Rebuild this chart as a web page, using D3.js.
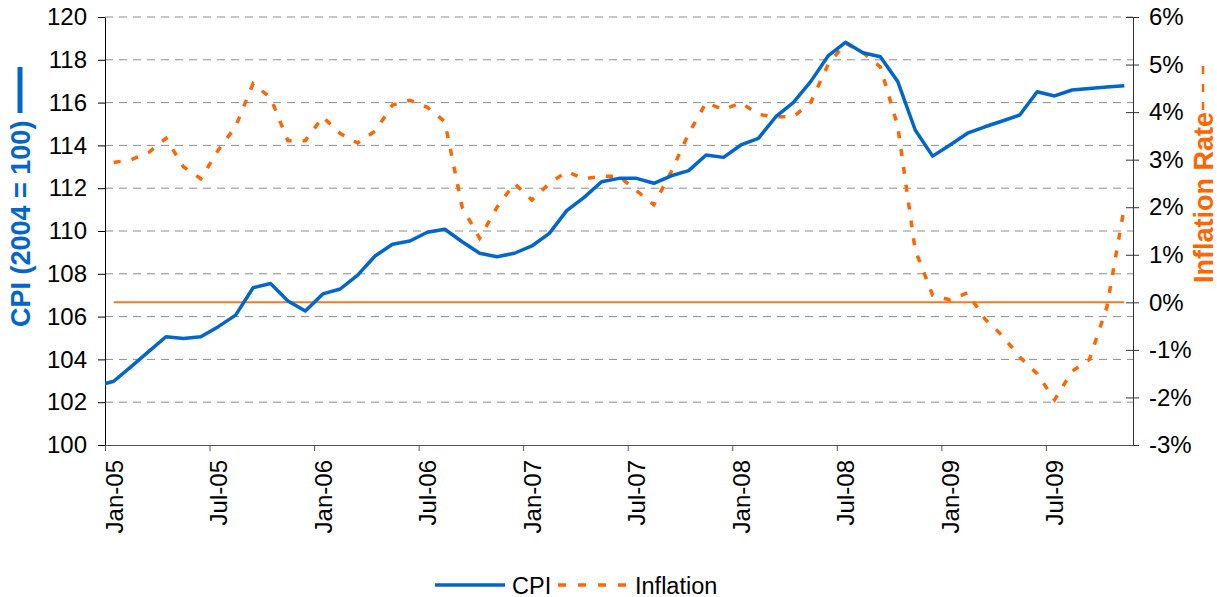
<!DOCTYPE html>
<html>
<head>
<meta charset="utf-8">
<script src="https://cdn.jsdelivr.net/npm/d3@7"></script>
<style>
  body { margin: 0; background: #fff; }
  svg { display: block; }
</style>
</head>
<body>
<script>
const width = 1217, height = 597;
const margin = { top: 17, right: 84, bottom: 152, left: 105 };
const innerWidth = width - margin.left - margin.right;
const innerHeight = height - margin.top - margin.bottom;
const fontFamily = '"Liberation Sans", Arial, sans-serif';

// months (CPI also has the Dec-04 point, drawn clipped at the axis)
const months = [
    'Dec-04',
    'Jan-05', 'Feb-05', 'Mar-05', 'Apr-05', 'May-05', 'Jun-05', 'Jul-05', 'Aug-05', 'Sep-05', 'Oct-05', 'Nov-05', 'Dec-05',
    'Jan-06', 'Feb-06', 'Mar-06', 'Apr-06', 'May-06', 'Jun-06', 'Jul-06', 'Aug-06', 'Sep-06', 'Oct-06', 'Nov-06', 'Dec-06',
    'Jan-07', 'Feb-07', 'Mar-07', 'Apr-07', 'May-07', 'Jun-07', 'Jul-07', 'Aug-07', 'Sep-07', 'Oct-07', 'Nov-07', 'Dec-07',
    'Jan-08', 'Feb-08', 'Mar-08', 'Apr-08', 'May-08', 'Jun-08', 'Jul-08', 'Aug-08', 'Sep-08', 'Oct-08', 'Nov-08', 'Dec-08',
    'Jan-09', 'Feb-09', 'Mar-09', 'Apr-09', 'May-09', 'Jun-09', 'Jul-09', 'Aug-09', 'Sep-09', 'Oct-09', 'Nov-09'
];

const cpi = [
    102.75,
    102.98, 103.66, 104.36, 105.06, 104.98, 105.06, 105.53, 106.07, 107.35, 107.55, 106.73, 106.26,
    107.06, 107.29, 107.94, 108.83, 109.38, 109.53, 109.94, 110.08, 109.50, 108.96, 108.80, 108.96,
    109.30, 109.89, 110.95, 111.57, 112.30, 112.46, 112.46, 112.23, 112.58, 112.82, 113.55, 113.44,
    114.02, 114.33, 115.34, 116.00, 116.98, 118.18, 118.82, 118.33, 118.14, 116.98, 114.72, 113.50,
    114.02, 114.57, 114.87, 115.14, 115.42, 116.51, 116.31, 116.59, 116.66, 116.73, 116.79
];

// inflation rate in %, no value for Dec-04
const inflation = [
    null,
    2.94, 3.00, 3.15, 3.45, 2.85, 2.60, 3.20, 3.70, 4.60, 4.30, 3.40, 3.40,
    3.90, 3.55, 3.35, 3.60, 4.15, 4.25, 4.10, 3.80, 2.00, 1.35, 2.00, 2.50,
    2.15, 2.50, 2.75, 2.60, 2.65, 2.65, 2.35, 2.05, 2.75, 3.55, 4.20, 4.05,
    4.20, 3.95, 3.90, 3.90, 4.20, 5.00, 5.45, 5.25, 4.95, 3.70, 1.10, 0.15,
    0.05, 0.20, -0.35, -0.70, -1.15, -1.50, -2.05, -1.45, -1.20, -0.10, 2.00
];

const xTickLabels = ['Jan-05', 'Jul-05', 'Jan-06', 'Jul-06', 'Jan-07', 'Jul-07', 'Jan-08', 'Jul-08', 'Jan-09', 'Jul-09'];
const cpiTicks = [100, 102, 104, 106, 108, 110, 112, 114, 116, 118, 120];
const rateTicks = [-3, -2, -1, 0, 1, 2, 3, 4, 5, 6];

const blue = '#0066CC', orange = '#FF6600';
const tickFont = 24;

const svg = d3.select('body')
    .append('svg')
    .attr('width', width)
    .attr('height', height)
    .attr('font-family', fontFamily)

// month index: Jan-05 = 0, each month is one band, points sit at band centres
const monthIndex = i => i - 1 + 0.5;
const xScale = d3.scaleLinear().domain([0, 59]).range([0, innerWidth]);
const yScale = d3.scaleLinear().domain([100, 120]).range([innerHeight, 0]);
const yRight = d3.scaleLinear().domain([-3, 6]).range([innerHeight, 0]);

const g = svg.append('g').attr('transform', `translate(${margin.left}, ${margin.top})`);

svg.append('defs').append('clipPath').attr('id', 'plot')
    .append('rect').attr('width', innerWidth).attr('height', innerHeight);

// gridlines
g.selectAll('.grid')
    .data(cpiTicks.slice(1))
    .enter()
    .append('line')
    .attr('x1', 0).attr('x2', innerWidth)
    .attr('y1', d => yScale(d)).attr('y2', d => yScale(d))
    .attr('stroke', '#8c8c8c')
    .attr('stroke-width', 1)
    .attr('stroke-dasharray', '8,6')

// left axis
const leftAxis = g.append('g')
    .call(d3.axisLeft(yScale).tickValues(cpiTicks).tickSize(7).tickPadding(11).tickSizeOuter(0))
    .attr('font-size', tickFont)
    .attr('font-family', fontFamily)
leftAxis.select('.domain').attr('stroke', '#000')
leftAxis.selectAll('text').attr('fill', '#000')

// right axis, ticks cross the line
const rightAxis = g.append('g')
    .attr('transform', `translate(${innerWidth}, 0)`)
    .call(d3.axisRight(yRight).tickValues(rateTicks).tickSize(6).tickPadding(10).tickSizeOuter(0)
        .tickFormat(d => d + '%'))
    .attr('font-size', tickFont)
    .attr('font-family', fontFamily)
rightAxis.select('.domain').attr('stroke', '#333')
rightAxis.selectAll('.tick line').attr('x1', -7).attr('stroke', '#333')
rightAxis.selectAll('text').attr('fill', '#000')

// bottom axis
const xTickValues = xTickLabels.map((d, i) => i * 6);
const bottomAxis = g.append('g')
    .attr('transform', `translate(0, ${innerHeight})`)
    .call(d3.axisBottom(xScale).tickValues(xTickValues).tickSize(6).tickSizeOuter(0)
        .tickFormat((d, i) => xTickLabels[i]))
    .attr('font-size', tickFont)
    .attr('font-family', fontFamily)
bottomAxis.select('.domain').attr('stroke', '#555')
bottomAxis.selectAll('.tick line').attr('stroke', '#555')
bottomAxis.selectAll('text')
    .attr('fill', '#000')
    .attr('text-anchor', 'end')
    .attr('x', 0).attr('y', 0).attr('dy', '0.35em')
    .attr('transform', `translate(${(xScale(1) - xScale(0)) / 2}, 15) rotate(-90)`)

// zero line of the inflation axis
g.append('line')
    .attr('x1', xScale(monthIndex(1))).attr('x2', xScale(monthIndex(months.length - 1)))
    .attr('y1', yRight(0)).attr('y2', yRight(0))
    .attr('stroke', '#F47A20')
    .attr('stroke-width', 2)

const cpiLine = d3.line()
    .x((d, i) => xScale(monthIndex(i)))
    .y(d => yScale(d))

const inflationLine = d3.line()
    .defined(d => d !== null)
    .x((d, i) => xScale(monthIndex(i)))
    .y(d => yRight(d))

g.append('path')
    .attr('d', inflationLine(inflation))
    .attr('fill', 'none')
    .attr('stroke', orange)
    .attr('stroke-width', 3.5)
    .attr('stroke-dasharray', '7,11')

g.append('path')
    .attr('clip-path', 'url(#plot)')
    .attr('d', cpiLine(cpi))
    .attr('fill', 'none')
    .attr('stroke', blue)
    .attr('stroke-width', 3.5)
    .attr('stroke-linejoin', 'round')

// axis titles with their line keys
svg.append('text')
    .attr('transform', 'translate(30, 327) rotate(-90)')
    .attr('font-size', 27)
    .attr('font-weight', 'bold')
    .attr('fill', blue)
    .text('CPI (2004 = 100)')
svg.append('line')
    .attr('x1', 20).attr('x2', 20).attr('y1', 113).attr('y2', 67)
    .attr('stroke', blue).attr('stroke-width', 5)

svg.append('text')
    .attr('transform', 'translate(1213, 283) rotate(-90)')
    .attr('font-size', 27)
    .attr('font-weight', 'bold')
    .attr('fill', orange)
    .text('Inflation Rate')
svg.append('line')
    .attr('x1', 1203).attr('x2', 1203).attr('y1', 110).attr('y2', 66)
    .attr('stroke', orange).attr('stroke-width', 2.5)
    .attr('stroke-dasharray', '8,10')

// legend
const legend = svg.append('g').attr('transform', 'translate(435, 585)');
legend.append('line')
    .attr('x1', 0).attr('x2', 70)
    .attr('stroke', blue).attr('stroke-width', 3.5)
legend.append('text')
    .attr('x', 77).attr('y', 8.5)
    .attr('font-size', 23.5)
    .text('CPI')
legend.append('line')
    .attr('x1', 123).attr('x2', 192)
    .attr('stroke', orange).attr('stroke-width', 3.5)
    .attr('stroke-dasharray', '8,12')
legend.append('text')
    .attr('x', 200).attr('y', 8.5)
    .attr('font-size', 23.5)
    .text('Inflation')
</script>
</body>
</html>
